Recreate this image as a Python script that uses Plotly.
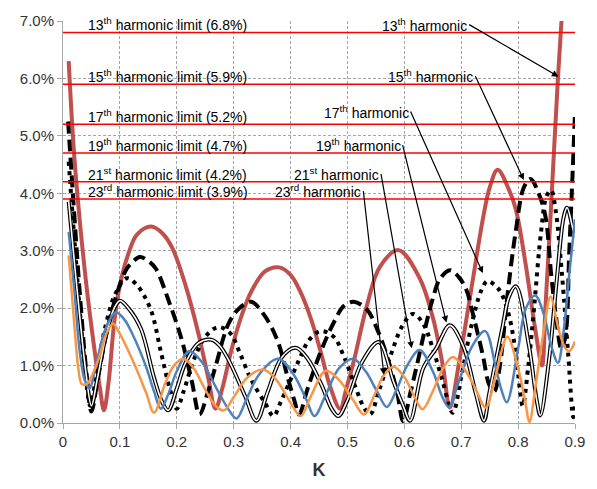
import plotly.graph_objects as go

# Harmonic magnitude (% of fundamental) versus K
k13 = [0.010, 0.018, 0.026, 0.040, 0.055, 0.065, 0.072, 0.080, 0.090, 0.100, 0.115, 0.130, 0.155, 0.175,
       0.192, 0.215, 0.238, 0.255, 0.268, 0.280, 0.296, 0.315, 0.331, 0.355, 0.380, 0.400, 0.418, 0.436,
       0.453, 0.470, 0.487, 0.498, 0.511, 0.534, 0.557, 0.590, 0.627, 0.650, 0.668, 0.680, 0.697, 0.720,
       0.738, 0.750, 0.764, 0.784, 0.796, 0.813, 0.830, 0.842, 0.848, 0.857, 0.870, 0.880]
h13 = [6.30, 4.90, 3.90, 2.50, 1.30, 0.60, 0.22, 0.70, 1.75, 2.40, 2.95, 3.28, 3.42, 3.30,
       3.05, 2.41, 1.56, 0.80, 0.25, 0.60, 1.27, 1.90, 2.29, 2.64, 2.71, 2.58, 2.27, 1.81,
       1.24, 0.62, 0.25, 0.60, 1.07, 2.04, 2.72, 3.01, 2.52, 1.84, 0.98, 0.27, 1.10, 2.47,
       3.55, 4.10, 4.41, 4.06, 3.72, 2.78, 1.64, 1.00, 2.00, 3.60, 6.00, 7.60]

k15 = [0.009, 0.020, 0.030, 0.040, 0.050, 0.060, 0.075, 0.093, 0.110, 0.120, 0.135, 0.150, 0.163, 0.186,
       0.209, 0.227, 0.240, 0.255, 0.268, 0.291, 0.310, 0.331, 0.355, 0.378, 0.395, 0.407, 0.415, 0.430,
       0.453, 0.476, 0.494, 0.511, 0.534, 0.552, 0.569, 0.587, 0.598, 0.610, 0.622, 0.639, 0.651, 0.662,
       0.680, 0.695, 0.709, 0.720, 0.738, 0.749, 0.758, 0.768, 0.781, 0.796, 0.810, 0.822, 0.836, 0.848,
       0.858, 0.866, 0.876, 0.883, 0.890, 0.896, 0.900]
h15 = [5.25, 3.60, 2.20, 1.00, 0.20, 0.70, 1.50, 2.20, 2.65, 2.78, 2.89, 2.82, 2.69, 2.12,
       1.44, 0.70, 0.15, 0.55, 0.98, 1.73, 2.00, 2.11, 1.86, 1.41, 0.79, 0.38, 0.15, 0.60,
       1.24, 1.75, 2.04, 2.11, 1.98, 1.64, 1.18, 0.55, 0.03, 0.50, 1.00, 1.75, 2.20, 2.50,
       2.66, 2.55, 2.32, 1.92, 1.18, 0.67, 0.55, 1.00, 2.20, 3.35, 4.10, 4.25, 4.00, 3.60,
       2.60, 1.90, 1.30, 1.50, 3.00, 4.40, 5.40]

k17 = [0.010, 0.020, 0.030, 0.040, 0.048, 0.058, 0.075, 0.092, 0.112, 0.130, 0.154, 0.172, 0.189, 0.200,
       0.212, 0.230, 0.250, 0.273, 0.295, 0.310, 0.331, 0.355, 0.370, 0.382, 0.395, 0.415, 0.433, 0.453,
       0.476, 0.494, 0.515, 0.530, 0.540, 0.555, 0.575, 0.597, 0.615, 0.632, 0.650, 0.668, 0.685, 0.700,
       0.718, 0.735, 0.746, 0.758, 0.770, 0.784, 0.793, 0.800, 0.808, 0.818, 0.828, 0.840, 0.850, 0.858,
       0.866, 0.877, 0.888, 0.897, 0.900]
h17 = [4.55, 3.20, 1.90, 0.80, 0.30, 0.80, 1.70, 2.25, 2.52, 2.40, 1.98, 1.24, 0.55, 0.25,
       0.55, 1.10, 1.50, 1.67, 1.55, 1.24, 0.75, 0.35, 0.12, 0.35, 0.64, 1.10, 1.45, 1.60,
       1.50, 1.15, 0.60, 0.25, 0.15, 0.55, 1.15, 1.70, 1.90, 1.75, 1.30, 0.70, 0.18, 0.80,
       1.70, 2.30, 2.47, 2.41, 2.27, 1.87, 1.41, 0.85, 0.30, 1.00, 2.00, 3.30, 3.95, 4.05,
       3.70, 2.60, 1.20, 0.10, 0.30]

k19 = [0.010, 0.020, 0.030, 0.040, 0.050, 0.060, 0.075, 0.090, 0.100, 0.115, 0.137, 0.160, 0.175, 0.185,
       0.200, 0.215, 0.238, 0.261, 0.275, 0.291, 0.320, 0.340, 0.360, 0.385, 0.409, 0.430, 0.455, 0.472,
       0.484, 0.500, 0.525, 0.555, 0.581, 0.598, 0.610, 0.633, 0.656, 0.680, 0.703, 0.726, 0.740, 0.749,
       0.772, 0.784, 0.796, 0.819, 0.833, 0.839, 0.854, 0.868, 0.880, 0.886, 0.897, 0.900]
h19 = [3.85, 2.80, 1.80, 0.90, 0.30, 0.75, 1.50, 2.00, 2.13, 2.00, 1.64, 0.79, 0.35, 0.22,
       0.60, 1.04, 1.39, 1.45, 1.35, 1.10, 0.47, 0.04, 0.55, 1.15, 1.31, 1.12, 0.65, 0.25,
       0.12, 0.40, 1.05, 1.41, 0.72, 0.30, 0.04, 0.95, 1.30, 1.70, 1.35, 0.50, 0.04, 0.50,
       1.64, 2.20, 2.38, 1.35, 0.38, 0.13, 1.07, 2.50, 3.58, 3.75, 3.35, 3.25]

k21 = [0.010, 0.020, 0.030, 0.038, 0.046, 0.060, 0.075, 0.093, 0.108, 0.122, 0.146, 0.160, 0.172, 0.185,
       0.200, 0.222, 0.245, 0.270, 0.292, 0.305, 0.322, 0.345, 0.378, 0.405, 0.428, 0.442, 0.460, 0.485,
       0.510, 0.532, 0.552, 0.569, 0.585, 0.605, 0.627, 0.650, 0.667, 0.678, 0.695, 0.720, 0.742, 0.760,
       0.770, 0.780, 0.801, 0.813, 0.830, 0.845, 0.858, 0.870, 0.880, 0.890, 0.900]
h21 = [3.33, 2.30, 1.20, 0.75, 0.60, 1.10, 1.65, 1.93, 1.80, 1.55, 0.98, 0.55, 0.25, 0.50,
       0.90, 1.25, 1.05, 0.60, 0.22, 0.08, 0.40, 0.85, 1.12, 0.85, 0.40, 0.12, 0.45, 0.95,
       1.12, 0.90, 0.55, 0.28, 0.55, 1.00, 1.27, 0.90, 0.45, 0.28, 0.70, 1.35, 1.60, 1.00,
       0.60, 0.36, 1.35, 1.98, 2.22, 1.90, 1.35, 1.05, 1.60, 2.60, 3.55]

k23 = [0.010, 0.020, 0.027, 0.033, 0.042, 0.052, 0.064, 0.076, 0.088, 0.100, 0.122, 0.146, 0.160, 0.180,
       0.195, 0.212, 0.230, 0.248, 0.268, 0.283, 0.300, 0.325, 0.352, 0.375, 0.400, 0.418, 0.435, 0.462,
       0.485, 0.510, 0.529, 0.548, 0.565, 0.581, 0.600, 0.618, 0.632, 0.650, 0.668, 0.685, 0.705, 0.725,
       0.743, 0.760, 0.781, 0.800, 0.812, 0.820, 0.830, 0.845, 0.857, 0.871, 0.883, 0.890, 0.900]
h23 = [2.92, 1.70, 0.95, 0.68, 0.68, 0.85, 1.15, 1.55, 1.73, 1.55, 1.10, 0.53, 0.18, 0.70,
       1.00, 1.12, 0.95, 0.62, 0.30, 0.22, 0.45, 0.80, 0.93, 0.75, 0.35, 0.12, 0.45, 0.91,
       0.75, 0.40, 0.15, 0.50, 0.85, 0.98, 0.80, 0.45, 0.24, 0.55, 0.95, 1.15, 0.95, 0.60,
       0.27, 0.80, 1.50, 0.95, 0.40, 0.02, 0.60, 1.60, 2.20, 1.64, 1.30, 1.25, 1.42]

# Limit per harmonic (%) and label texts
limit_names = ["13<sup>th</sup>", "15<sup>th</sup>", "17<sup>th</sup>",
               "19<sup>th</sup>", "21<sup>st</sup>", "23<sup>rd</sup>"]
limit_values = [6.8, 5.9, 5.2, 4.7, 4.2, 3.9]

x_ticks = [0, 0.1, 0.2, 0.3, 0.4, 0.5, 0.6, 0.7, 0.8, 0.9]
x_tick_text = ["0", "0.1", "0.2", "0.3", "0.4", "0.5", "0.6", "0.7", "0.8", "0.9"]

RED = "#C0504D"
BLUE = "#4F81BD"
ORANGE = "#F79646"
FONT = "Liberation Sans"
PX_PER_PCT = 58.4  # vertical pixels per 1 % on the value axis

fig = go.Figure()

fig.add_trace(go.Scatter(x=k13, y=h13, mode="lines", name="13th harmonic",
                         line=dict(color=RED, width=4, shape="spline")))
fig.add_trace(go.Scatter(x=k15, y=h15, mode="lines", name="15th harmonic",
                         line=dict(color="black", width=4, dash="12px,6px", shape="spline")))
fig.add_trace(go.Scatter(x=k17, y=h17, mode="lines", name="17th harmonic",
                         line=dict(color="black", width=4, dash="4px,5px", shape="spline")))
# double (compound) line for the 19th harmonic
fig.add_trace(go.Scatter(x=k19, y=h19, mode="lines", name="19th harmonic",
                         line=dict(color="black", width=4, shape="spline")))
fig.add_trace(go.Scatter(x=k19, y=h19, mode="lines", showlegend=False, hoverinfo="skip",
                         line=dict(color="white", width=1.6, shape="spline")))
fig.add_trace(go.Scatter(x=k21, y=h21, mode="lines", name="21st harmonic",
                         line=dict(color=BLUE, width=2.5, shape="spline")))
fig.add_trace(go.Scatter(x=k23, y=h23, mode="lines", name="23rd harmonic",
                         line=dict(color=ORANGE, width=2.5, shape="spline")))

# limit lines on top of the curves
for v in limit_values:
    fig.add_trace(go.Scatter(x=[0, 0.9], y=[v, v], mode="lines",
                             line=dict(color="#FF0000", width=1.5), hoverinfo="skip"))

annotations = []
# labels above each limit line
for name, v in zip(limit_names, limit_values):
    annotations.append(dict(x=0.04, y=v, xref="x", yref="y", xanchor="left", yanchor="middle",
                            yshift=8, showarrow=False,
                            text=f"{name} harmonic limit ({v}%)",
                            font=dict(family=FONT, size=14, color="black")))

# harmonic labels, each with an arrow to its curve; the arrow leaves from the label's right end
label_right = [0.714, 0.725, 0.611, 0.597, 0.559, 0.528]
label_shift = [8, 8, 13, 8, 8, 8]
arrow_tip = [(0.871, 6.03), (0.810, 4.23), (0.738, 2.61), (0.674, 1.75), (0.613, 1.30), (0.564, 0.84)]
for name, v, lx, sh, tip in zip(limit_names, limit_values, label_right, label_shift, arrow_tip):
    annotations.append(dict(x=tip[0], y=tip[1], ax=lx, ay=v + sh / PX_PER_PCT,
                            xref="x", yref="y", axref="x", ayref="y",
                            xanchor="right", yanchor="middle",
                            text=f"{name} harmonic", showarrow=True, arrowhead=2,
                            arrowsize=1.1, arrowwidth=1.2, arrowcolor="black", standoff=0,
                            font=dict(family=FONT, size=14, color="black")))

fig.update_layout(
    width=597, height=489,
    margin=dict(l=63, r=17, t=15, b=65),
    paper_bgcolor="white", plot_bgcolor="white",
    showlegend=False,
    annotations=annotations,
    font=dict(family=FONT, color="#333333"),
)
fig.update_xaxes(range=[0, 0.9], tickvals=x_ticks, ticktext=x_tick_text,
                 showgrid=True, gridcolor="#A6A6A6", griddash="3px,2px", gridwidth=1,
                 showline=True, linecolor="#A6A6A6", linewidth=1,
                 ticks="outside", ticklen=5, tickcolor="#A6A6A6",
                 tickfont=dict(family=FONT, size=15, color="#333333"),
                 zeroline=False,
                 title=dict(text="<b>K</b>", font=dict(family=FONT, size=18, color="#333333"),
                            standoff=14))
fig.update_yaxes(range=[0, 7], dtick=1, tickformat=".1f", ticksuffix="%",
                 showgrid=True, gridcolor="#A6A6A6", griddash="3px,2px", gridwidth=1,
                 showline=True, linecolor="#A6A6A6", linewidth=1,
                 ticks="outside", ticklen=5, tickcolor="#A6A6A6",
                 tickfont=dict(family=FONT, size=15, color="#333333"),
                 zeroline=False)

fig.write_html("out.html")
